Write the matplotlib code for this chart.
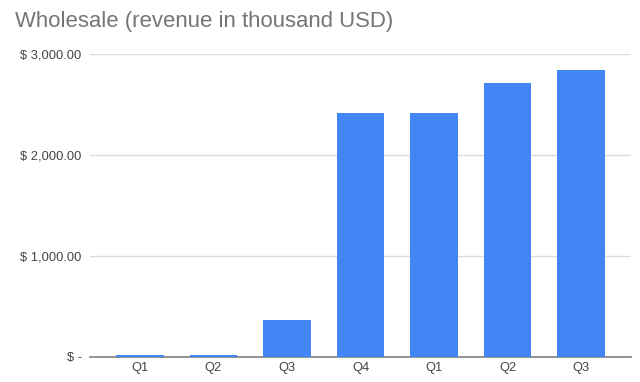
import matplotlib
matplotlib.use("Agg")
import matplotlib.pyplot as plt
from matplotlib.ticker import FuncFormatter

categories = ["Q1", "Q2", "Q3", "Q4", "Q1", "Q2", "Q3"]
revenue = [20, 20, 360, 2418, 2418, 2710, 2841]
yticks = [0, 1000, 2000, 3000]

plt.rcParams['font.family'] = ['Liberation Sans', 'DejaVu Sans']

fig = plt.figure(figsize=(6.4, 3.82), dpi=100)
W, H = 640, 382
ax = fig.add_axes([90 / W, (H - 356.7) / H, (631 - 90) / W, (356.7 - 54) / H])

x = list(range(len(categories)))
ax.bar(x, revenue, width=0.65, color="#4285F4", zorder=5)
ax.set_xlim(-0.68, 6.68)
ax.set_ylim(0, 3000)
ax.set_xticks(x)
ax.set_xticklabels(categories)
ax.set_yticks(yticks)

def fmt(v, pos):
    if v == 0:
        return "$ -"
    return "$ {:,.2f}".format(v)

ax.yaxis.set_major_formatter(FuncFormatter(fmt))
ax.grid(axis="y", color="#dcdcdc", linewidth=1.0, zorder=0)
for s in ["top", "right", "left"]:
    ax.spines[s].set_visible(False)
ax.spines["bottom"].set_color("#8a8a8a")
ax.spines["bottom"].set_linewidth(1.3)
ax.spines["bottom"].set_zorder(2)
ax.tick_params(axis="both", length=0, labelsize=9.3, labelcolor="#444444")
ax.tick_params(axis="y", pad=6)
ax.tick_params(axis="x", pad=4)

fig.text(15 / W, 1 - 22 / H, "Wholesale (revenue in thousand USD)", fontsize=15.9,
         color="#757575", va="center", ha="left")

fig.savefig("out.png", dpi=100)
